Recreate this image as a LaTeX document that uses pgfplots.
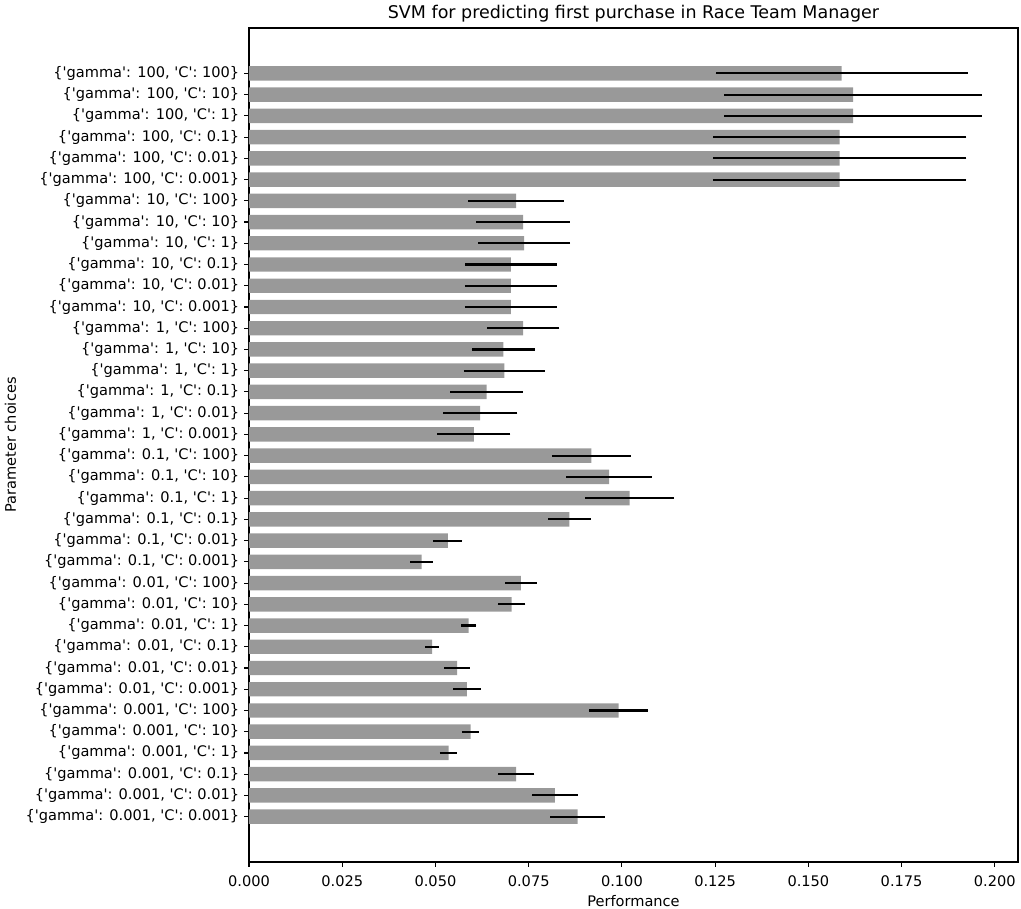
\documentclass[border=0pt]{standalone}
\usepackage{fontspec}
\setmainfont{DejaVu Sans}
\usepackage{pgfplots}
\pgfplotsset{compat=1.18}
\usepackage{pgfplotstable}
\newcommand\pc[2]{\{\textquotesingle gamma\textquotesingle: #1, \textquotesingle C\textquotesingle: #2\}}
\pgfplotstableread{
y v e
0 0.0881 0.0073
1 0.0820 0.0062
2 0.0716 0.0049
3 0.0535 0.0023
4 0.0594 0.0023
5 0.0991 0.0080
6 0.0584 0.0037
7 0.0558 0.0034
8 0.0491 0.0019
9 0.0589 0.0021
10 0.0704 0.0037
11 0.0729 0.0043
12 0.0463 0.0030
13 0.0533 0.0039
14 0.0859 0.0057
15 0.1021 0.0119
16 0.0966 0.0115
17 0.0918 0.0106
18 0.0603 0.0098
19 0.0620 0.0100
20 0.0637 0.0098
21 0.0685 0.0109
22 0.0682 0.0085
23 0.0735 0.0097
24 0.0702 0.0123
25 0.0702 0.0123
26 0.0702 0.0123
27 0.0738 0.0123
28 0.0735 0.0125
29 0.0716 0.0128
30 0.1584 0.0340
31 0.1584 0.0340
32 0.1584 0.0340
33 0.1620 0.0345
34 0.1620 0.0345
35 0.1589 0.0338
}\datatable
\definecolor{bargray}{RGB}{153,153,153}
\begin{document}
\begin{tikzpicture}
\begin{axis}[
  scale only axis,
  width=553.7pt, height=600.5pt,
  xmin=0, xmax=0.2062,
  ymin=-2.135, ymax=37.135,
  axis line style={line width=0.8pt},
  tick align=outside,
  major tick length=3.5pt,
  tick style={line width=0.8pt, black},
  xtick pos=bottom, ytick pos=left,
  xtick={0,0.025,0.05,0.075,0.1,0.125,0.15,0.175,0.2},
  xticklabel style={yshift=-3pt, /pgf/number format/.cd, fixed, fixed zerofill, precision=3, assume math mode=true},
  ytick={0,...,35},
  yticklabels={\pc{0.001}{0.001},\pc{0.001}{0.01},\pc{0.001}{0.1},\pc{0.001}{1},\pc{0.001}{10},\pc{0.001}{100},
    \pc{0.01}{0.001},\pc{0.01}{0.01},\pc{0.01}{0.1},\pc{0.01}{1},\pc{0.01}{10},\pc{0.01}{100},
    \pc{0.1}{0.001},\pc{0.1}{0.01},\pc{0.1}{0.1},\pc{0.1}{1},\pc{0.1}{10},\pc{0.1}{100},
    \pc{1}{0.001},\pc{1}{0.01},\pc{1}{0.1},\pc{1}{1},\pc{1}{10},\pc{1}{100},
    \pc{10}{0.001},\pc{10}{0.01},\pc{10}{0.1},\pc{10}{1},\pc{10}{10},\pc{10}{100},
    \pc{100}{0.001},\pc{100}{0.01},\pc{100}{0.1},\pc{100}{1},\pc{100}{10},\pc{100}{100}},
  ticklabel style={font=\fontsize{10.5}{12}\selectfont},
  label style={font=\fontsize{10.5}{12}\selectfont},
  every axis title/.style={at={(0.5,1)}, anchor=south, yshift=1pt, font=\fontsize{12.6}{15}\selectfont},
  title={SVM for predicting first purchase in Race Team Manager},
  xlabel={Performance},
  ylabel={Parameter choices},
  xlabel style={yshift=1pt},
]
\addplot[xbar, bar width=0.68, fill=bargray, draw=none,
  error bars/.cd, x dir=both, x explicit, error mark=none,
  error bar style={line width=1.5pt, black}]
  table[x=v, y=y, x error=e] {\datatable};
\coordinate (SW) at (rel axis cs:0,0);
\coordinate (NE) at (rel axis cs:1,1);
\end{axis}
\pgfresetboundingbox
\path ([shift={(-179.3pt,-33.8pt)}]SW) rectangle ([shift={(2.2pt,20.2pt)}]NE);
\end{tikzpicture}
\end{document}
